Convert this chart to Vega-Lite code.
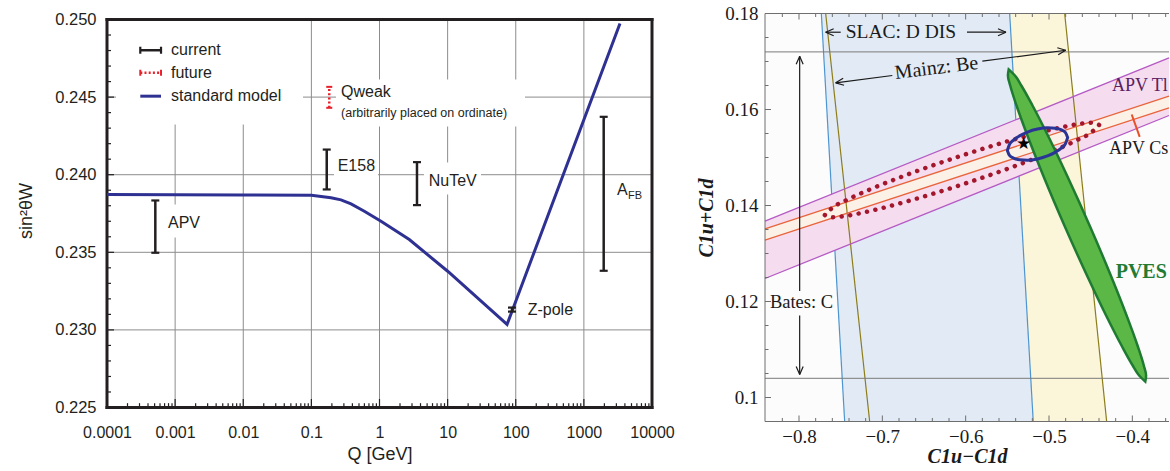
{
 "$schema": "https://vega.github.io/schema/vega-lite/v6.json",
 "padding": {"left": 17, "top": 4.5, "right": 0, "bottom": 0},
 "background": "white",
 "spacing": 21,
 "config": {"view": {"stroke": null}},
 "datasets": {
  "sm": [{"x":0.0001,"y":0.23872},{"x":0.001,"y":0.23871},{"x":0.01,"y":0.2387},{"x":0.1,"y":0.23868},{"x":0.194,"y":0.23851},{"x":0.272,"y":0.23838},{"x":0.382,"y":0.23812},{"x":0.599,"y":0.23765},{"x":1.052,"y":0.237},{"x":2.737,"y":0.23582},{"x":10.02,"y":0.23378},{"x":74.5,"y":0.23035},{"x":3388,"y":0.24974}],
  "bars": [{"x":0.000512,"y":0.23497,"y2":0.23834},{"x":0.168,"y":0.23905,"y2":0.24162},{"x":3.55,"y":0.23804,"y2":0.24081},{"x":1954,"y":0.23381,"y2":0.24373},{"x":88.1,"y":0.23118,"y2":0.23144}],
  "caps": [{"x":0.000512,"y":0.23497},{"x":0.000512,"y":0.23834},{"x":0.168,"y":0.23905},{"x":0.168,"y":0.24162},{"x":3.55,"y":0.23804},{"x":3.55,"y":0.24081},{"x":1954,"y":0.23381},{"x":1954,"y":0.24373},{"x":88.1,"y":0.23118},{"x":88.1,"y":0.23144}],
  "ltext": [
   {"x":0.00087,"y":0.24802,"t":"current","s":16},
   {"x":0.00087,"y":0.24657,"t":"future","s":16},
   {"x":0.00087,"y":0.24506,"t":"standard model","s":16},
   {"x":0.000785,"y":0.23692,"t":"APV","s":16},
   {"x":0.2434,"y":0.24055,"t":"E158","s":16},
   {"x":5.275,"y":0.23958,"t":"NuTeV","s":16},
   {"x":0.2723,"y":0.24532,"t":"Qweak","s":16},
   {"x":0.2723,"y":0.2440,"t":"(arbitrarily placed on ordinate)","s":12.5},
   {"x":3062,"y":0.2390,"t":"A","s":16},
   {"x":4446,"y":0.23861,"t":"FB","s":11},
   {"x":149.8,"y":0.23127,"t":"Z-pole","s":16}
  ],
  "vgrid": [{"x":0.001,"y":0.225,"y2":0.25},{"x":0.01,"y":0.225,"y2":0.25},{"x":0.1,"y":0.225,"y2":0.25},{"x":1,"y":0.225,"y2":0.25},{"x":10,"y":0.225,"y2":0.25},{"x":100,"y":0.225,"y2":0.25},{"x":1000,"y":0.225,"y2":0.25}],
  "hgrid": [{"y":0.23,"x":0.0001,"x2":10000},{"y":0.235,"x":0.0001,"x2":10000},{"y":0.24,"x":0.0001,"x2":10000},{"y":0.245,"x":0.0001,"x2":10000}],
  "lt": [
   {"x":0.0002,"x2":0.0002,"y":0.225,"y2":0.22528},{"x":0.0003,"x2":0.0003,"y":0.225,"y2":0.22528},{"x":0.0004,"x2":0.0004,"y":0.225,"y2":0.22528},{"x":0.0005,"x2":0.0005,"y":0.225,"y2":0.22528},{"x":0.0006,"x2":0.0006,"y":0.225,"y2":0.22528},{"x":0.0007,"x2":0.0007,"y":0.225,"y2":0.22528},{"x":0.0008,"x2":0.0008,"y":0.225,"y2":0.22528},{"x":0.0009,"x2":0.0009,"y":0.225,"y2":0.22528},
   {"x":0.002,"x2":0.002,"y":0.225,"y2":0.22528},{"x":0.003,"x2":0.003,"y":0.225,"y2":0.22528},{"x":0.004,"x2":0.004,"y":0.225,"y2":0.22528},{"x":0.005,"x2":0.005,"y":0.225,"y2":0.22528},{"x":0.006,"x2":0.006,"y":0.225,"y2":0.22528},{"x":0.007,"x2":0.007,"y":0.225,"y2":0.22528},{"x":0.008,"x2":0.008,"y":0.225,"y2":0.22528},{"x":0.009,"x2":0.009,"y":0.225,"y2":0.22528},
   {"x":0.02,"x2":0.02,"y":0.225,"y2":0.22528},{"x":0.03,"x2":0.03,"y":0.225,"y2":0.22528},{"x":0.04,"x2":0.04,"y":0.225,"y2":0.22528},{"x":0.05,"x2":0.05,"y":0.225,"y2":0.22528},{"x":0.06,"x2":0.06,"y":0.225,"y2":0.22528},{"x":0.07,"x2":0.07,"y":0.225,"y2":0.22528},{"x":0.08,"x2":0.08,"y":0.225,"y2":0.22528},{"x":0.09,"x2":0.09,"y":0.225,"y2":0.22528},
   {"x":0.2,"x2":0.2,"y":0.225,"y2":0.22528},{"x":0.3,"x2":0.3,"y":0.225,"y2":0.22528},{"x":0.4,"x2":0.4,"y":0.225,"y2":0.22528},{"x":0.5,"x2":0.5,"y":0.225,"y2":0.22528},{"x":0.6,"x2":0.6,"y":0.225,"y2":0.22528},{"x":0.7,"x2":0.7,"y":0.225,"y2":0.22528},{"x":0.8,"x2":0.8,"y":0.225,"y2":0.22528},{"x":0.9,"x2":0.9,"y":0.225,"y2":0.22528},
   {"x":2,"x2":2,"y":0.225,"y2":0.22528},{"x":3,"x2":3,"y":0.225,"y2":0.22528},{"x":4,"x2":4,"y":0.225,"y2":0.22528},{"x":5,"x2":5,"y":0.225,"y2":0.22528},{"x":6,"x2":6,"y":0.225,"y2":0.22528},{"x":7,"x2":7,"y":0.225,"y2":0.22528},{"x":8,"x2":8,"y":0.225,"y2":0.22528},{"x":9,"x2":9,"y":0.225,"y2":0.22528},
   {"x":20,"x2":20,"y":0.225,"y2":0.22528},{"x":30,"x2":30,"y":0.225,"y2":0.22528},{"x":40,"x2":40,"y":0.225,"y2":0.22528},{"x":50,"x2":50,"y":0.225,"y2":0.22528},{"x":60,"x2":60,"y":0.225,"y2":0.22528},{"x":70,"x2":70,"y":0.225,"y2":0.22528},{"x":80,"x2":80,"y":0.225,"y2":0.22528},{"x":90,"x2":90,"y":0.225,"y2":0.22528},
   {"x":200,"x2":200,"y":0.225,"y2":0.22528},{"x":300,"x2":300,"y":0.225,"y2":0.22528},{"x":400,"x2":400,"y":0.225,"y2":0.22528},{"x":500,"x2":500,"y":0.225,"y2":0.22528},{"x":600,"x2":600,"y":0.225,"y2":0.22528},{"x":700,"x2":700,"y":0.225,"y2":0.22528},{"x":800,"x2":800,"y":0.225,"y2":0.22528},{"x":900,"x2":900,"y":0.225,"y2":0.22528},
   {"x":2000,"x2":2000,"y":0.225,"y2":0.22528},{"x":3000,"x2":3000,"y":0.225,"y2":0.22528},{"x":4000,"x2":4000,"y":0.225,"y2":0.22528},{"x":5000,"x2":5000,"y":0.225,"y2":0.22528},{"x":6000,"x2":6000,"y":0.225,"y2":0.22528},{"x":7000,"x2":7000,"y":0.225,"y2":0.22528},{"x":8000,"x2":8000,"y":0.225,"y2":0.22528},{"x":9000,"x2":9000,"y":0.225,"y2":0.22528},
   {"x":0.001,"x2":0.001,"y":0.225,"y2":0.22555},{"x":0.01,"x2":0.01,"y":0.225,"y2":0.22555},{"x":0.1,"x2":0.1,"y":0.225,"y2":0.22555},{"x":1,"x2":1,"y":0.225,"y2":0.22555},{"x":10,"x2":10,"y":0.225,"y2":0.22555},{"x":100,"x2":100,"y":0.225,"y2":0.22555},{"x":1000,"x2":1000,"y":0.225,"y2":0.22555},
   {"y":0.226,"y2":0.226,"x":0.0001,"x2":0.0001145},{"y":0.227,"y2":0.227,"x":0.0001,"x2":0.0001145},{"y":0.228,"y2":0.228,"x":0.0001,"x2":0.0001145},{"y":0.229,"y2":0.229,"x":0.0001,"x2":0.0001145},
   {"y":0.231,"y2":0.231,"x":0.0001,"x2":0.0001145},{"y":0.232,"y2":0.232,"x":0.0001,"x2":0.0001145},{"y":0.233,"y2":0.233,"x":0.0001,"x2":0.0001145},{"y":0.234,"y2":0.234,"x":0.0001,"x2":0.0001145},
   {"y":0.236,"y2":0.236,"x":0.0001,"x2":0.0001145},{"y":0.237,"y2":0.237,"x":0.0001,"x2":0.0001145},{"y":0.238,"y2":0.238,"x":0.0001,"x2":0.0001145},{"y":0.239,"y2":0.239,"x":0.0001,"x2":0.0001145},
   {"y":0.241,"y2":0.241,"x":0.0001,"x2":0.0001145},{"y":0.242,"y2":0.242,"x":0.0001,"x2":0.0001145},{"y":0.243,"y2":0.243,"x":0.0001,"x2":0.0001145},{"y":0.244,"y2":0.244,"x":0.0001,"x2":0.0001145},
   {"y":0.246,"y2":0.246,"x":0.0001,"x2":0.0001145},{"y":0.247,"y2":0.247,"x":0.0001,"x2":0.0001145},{"y":0.248,"y2":0.248,"x":0.0001,"x2":0.0001145},{"y":0.249,"y2":0.249,"x":0.0001,"x2":0.0001145},
   {"y":0.23,"y2":0.23,"x":0.0001,"x2":0.0001267},{"y":0.235,"y2":0.235,"x":0.0001,"x2":0.0001267},{"y":0.24,"y2":0.24,"x":0.0001,"x2":0.0001267},{"y":0.245,"y2":0.245,"x":0.0001,"x2":0.0001267}
  ],
  "rt": [
   {"x":-0.82,"x2":-0.82,"y":0.095,"y2":0.09573},{"x":-0.78,"x2":-0.78,"y":0.095,"y2":0.09573},{"x":-0.76,"x2":-0.76,"y":0.095,"y2":0.09573},{"x":-0.74,"x2":-0.74,"y":0.095,"y2":0.09573},{"x":-0.72,"x2":-0.72,"y":0.095,"y2":0.09573},{"x":-0.68,"x2":-0.68,"y":0.095,"y2":0.09573},{"x":-0.66,"x2":-0.66,"y":0.095,"y2":0.09573},{"x":-0.64,"x2":-0.64,"y":0.095,"y2":0.09573},{"x":-0.62,"x2":-0.62,"y":0.095,"y2":0.09573},{"x":-0.58,"x2":-0.58,"y":0.095,"y2":0.09573},{"x":-0.56,"x2":-0.56,"y":0.095,"y2":0.09573},{"x":-0.54,"x2":-0.54,"y":0.095,"y2":0.09573},{"x":-0.52,"x2":-0.52,"y":0.095,"y2":0.09573},{"x":-0.48,"x2":-0.48,"y":0.095,"y2":0.09573},{"x":-0.46,"x2":-0.46,"y":0.095,"y2":0.09573},{"x":-0.44,"x2":-0.44,"y":0.095,"y2":0.09573},{"x":-0.42,"x2":-0.42,"y":0.095,"y2":0.09573},{"x":-0.38,"x2":-0.38,"y":0.095,"y2":0.09573},{"x":-0.36,"x2":-0.36,"y":0.095,"y2":0.09573},
   {"x":-0.82,"x2":-0.82,"y":0.18,"y2":0.17927},{"x":-0.78,"x2":-0.78,"y":0.18,"y2":0.17927},{"x":-0.76,"x2":-0.76,"y":0.18,"y2":0.17927},{"x":-0.74,"x2":-0.74,"y":0.18,"y2":0.17927},{"x":-0.72,"x2":-0.72,"y":0.18,"y2":0.17927},{"x":-0.68,"x2":-0.68,"y":0.18,"y2":0.17927},{"x":-0.66,"x2":-0.66,"y":0.18,"y2":0.17927},{"x":-0.64,"x2":-0.64,"y":0.18,"y2":0.17927},{"x":-0.62,"x2":-0.62,"y":0.18,"y2":0.17927},{"x":-0.58,"x2":-0.58,"y":0.18,"y2":0.17927},{"x":-0.56,"x2":-0.56,"y":0.18,"y2":0.17927},{"x":-0.54,"x2":-0.54,"y":0.18,"y2":0.17927},{"x":-0.52,"x2":-0.52,"y":0.18,"y2":0.17927},{"x":-0.48,"x2":-0.48,"y":0.18,"y2":0.17927},{"x":-0.46,"x2":-0.46,"y":0.18,"y2":0.17927},{"x":-0.44,"x2":-0.44,"y":0.18,"y2":0.17927},{"x":-0.42,"x2":-0.42,"y":0.18,"y2":0.17927},{"x":-0.38,"x2":-0.38,"y":0.18,"y2":0.17927},{"x":-0.36,"x2":-0.36,"y":0.18,"y2":0.17927},
   {"x":-0.8,"x2":-0.8,"y":0.095,"y2":0.09625},{"x":-0.7,"x2":-0.7,"y":0.095,"y2":0.09625},{"x":-0.6,"x2":-0.6,"y":0.095,"y2":0.09625},{"x":-0.5,"x2":-0.5,"y":0.095,"y2":0.09625},{"x":-0.4,"x2":-0.4,"y":0.095,"y2":0.09625},
   {"x":-0.8,"x2":-0.8,"y":0.18,"y2":0.17875},{"x":-0.7,"x2":-0.7,"y":0.18,"y2":0.17875},{"x":-0.6,"x2":-0.6,"y":0.18,"y2":0.17875},{"x":-0.5,"x2":-0.5,"y":0.18,"y2":0.17875},{"x":-0.4,"x2":-0.4,"y":0.18,"y2":0.17875},
   {"y":0.105,"y2":0.105,"x":-0.8408,"x2":-0.8366},{"y":0.11,"y2":0.11,"x":-0.8408,"x2":-0.8366},{"y":0.115,"y2":0.115,"x":-0.8408,"x2":-0.8366},{"y":0.125,"y2":0.125,"x":-0.8408,"x2":-0.8366},{"y":0.13,"y2":0.13,"x":-0.8408,"x2":-0.8366},{"y":0.135,"y2":0.135,"x":-0.8408,"x2":-0.8366},{"y":0.145,"y2":0.145,"x":-0.8408,"x2":-0.8366},{"y":0.15,"y2":0.15,"x":-0.8408,"x2":-0.8366},{"y":0.155,"y2":0.155,"x":-0.8408,"x2":-0.8366},{"y":0.165,"y2":0.165,"x":-0.8408,"x2":-0.8366},{"y":0.17,"y2":0.17,"x":-0.8408,"x2":-0.8366},{"y":0.175,"y2":0.175,"x":-0.8408,"x2":-0.8366},
   {"y":0.1,"y2":0.1,"x":-0.8408,"x2":-0.8336},{"y":0.12,"y2":0.12,"x":-0.8408,"x2":-0.8336},{"y":0.14,"y2":0.14,"x":-0.8408,"x2":-0.8336},{"y":0.16,"y2":0.16,"x":-0.8408,"x2":-0.8336}
  ],
  "dotell": [{"x":-0.76896,"y":0.138009,"y2":0.138009},{"x":-0.7604,"y":0.137534,"y2":0.139462},{"x":-0.7424,"y":0.137875,"y2":0.141174},{"x":-0.7124,"y":0.138951,"y2":0.143521},{"x":-0.6644,"y":0.141155,"y2":0.146794},{"x":-0.6044,"y":0.144369,"y2":0.150423},{"x":-0.5444,"y":0.148,"y2":0.153638},{"x":-0.4964,"y":0.151271,"y2":0.155842},{"x":-0.4664,"y":0.153619,"y2":0.156917},{"x":-0.4484,"y":0.155332,"y2":0.157259},{"x":-0.43984,"y":0.156784,"y2":0.156784}],
  "pves": [{"y":0.168354,"x":-0.54836,"x2":-0.54836},{"y":0.167083,"x":-0.54932,"x2":-0.54092},{"y":0.165,"x":-0.54656,"x2":-0.53324},{"y":0.160833,"x":-0.539,"x2":-0.5198},{"y":0.154583,"x":-0.52592,"x2":-0.50132},{"y":0.14625,"x":-0.50696,"x2":-0.4784},{"y":0.135833,"x":-0.48152,"x2":-0.45128},{"y":0.125417,"x":-0.4544,"x2":-0.42584},{"y":0.117083,"x":-0.43148,"x2":-0.40688},{"y":0.110833,"x":-0.413,"x2":-0.3938},{"y":0.106667,"x":-0.39956,"x2":-0.38624},{"y":0.104583,"x":-0.39188,"x2":-0.38348},{"y":0.103313,"x":-0.38444,"x2":-0.38444}],
  "bell": [{"x":-0.54996,"y":0.151482,"y2":0.151482},{"x":-0.5474,"y":0.150428,"y2":0.152723},{"x":-0.5426,"y":0.149873,"y2":0.153632},{"x":-0.5354,"y":0.149526,"y2":0.154511},{"x":-0.5258,"y":0.14944,"y2":0.155302},{"x":-0.5138,"y":0.149705,"y2":0.155921},{"x":-0.5018,"y":0.150323,"y2":0.156186},{"x":-0.4922,"y":0.151115,"y2":0.1561},{"x":-0.485,"y":0.151994,"y2":0.155752},{"x":-0.4802,"y":0.152903,"y2":0.155198},{"x":-0.47764,"y":0.154144,"y2":0.154144}],
  "arrows": [
   {"x":-0.7992,"y":0.1222,"x2":-0.7992,"y2":0.1711},
   {"x":-0.7992,"y":0.1171,"x2":-0.7992,"y2":0.1048},
   {"x":-0.74996,"y":0.1761,"x2":-0.768,"y2":0.1761},
   {"x":-0.5984,"y":0.1761,"x2":-0.5516,"y2":0.1761},
   {"x":-0.688,"y":0.16708,"x2":-0.756,"y2":0.16556},
   {"x":-0.58,"y":0.17006,"x2":-0.47996,"y2":0.17235},
   {"x":-0.7992,"y":0.1711,"x2":-0.795,"y2":0.16943},
   {"x":-0.7992,"y":0.1711,"x2":-0.8034,"y2":0.16943},
   {"x":-0.7992,"y":0.1048,"x2":-0.795,"y2":0.10647},
   {"x":-0.7992,"y":0.1048,"x2":-0.8034,"y2":0.10647},
   {"x":-0.768,"y":0.1761,"x2":-0.7584,"y2":0.176829},
   {"x":-0.768,"y":0.1761,"x2":-0.7584,"y2":0.175371},
   {"x":-0.5516,"y":0.1761,"x2":-0.5612,"y2":0.176829},
   {"x":-0.5516,"y":0.1761,"x2":-0.5612,"y2":0.175371},
   {"x":-0.756,"y":0.16556,"x2":-0.747017,"y2":0.166496},
   {"x":-0.756,"y":0.16556,"x2":-0.745942,"y2":0.16505},
   {"x":-0.47996,"y":0.17235,"x2":-0.488928,"y2":0.171409},
   {"x":-0.47996,"y":0.17235,"x2":-0.490027,"y2":0.172855}
  ]
 },
 "hconcat": [
  {
   "width": 545, "height": 394,
   "view": {"stroke": null, "fill": "white"},
   "encoding": {
    "x": {"field": "x", "type": "quantitative",
     "scale": {"type": "log", "domain": [0.0001, 10000], "nice": false},
     "axis": {"values": [0.0001,0.001,0.01,0.1,1,10,100,1000,10000], "labelExpr": "format(datum.value, '~g')", "ticks": false, "domain": false, "grid": false, "labelFlush": false, "labelOverlap": false, "labelPadding": 16.5, "labelFont": "Liberation Sans", "labelFontSize": 16, "labelColor": "#231f20", "title": "Q [GeV]", "titleFont": "Liberation Sans", "titleFontSize": 18, "titleFontWeight": "normal", "titleColor": "#231f20", "titlePadding": 5.5}},
    "y": {"field": "y", "type": "quantitative",
     "scale": {"domain": [0.225, 0.250387], "nice": false, "zero": false},
     "axis": {"values": [0.225,0.23,0.235,0.24,0.245,0.25], "format": ".3f", "ticks": false, "domain": false, "grid": false, "labelPadding": 11, "labelFont": "Liberation Sans", "labelFontSize": 16.5, "labelColor": "#231f20", "title": "sin²θW", "titleFont": "Liberation Sans", "titleFontSize": 18, "titleFontWeight": "normal", "titleColor": "#231f20", "titlePadding": 19}}
   },
   "layer": [
    {"data": {"name": "vgrid"}, "mark": {"type": "rule", "color": "#8c8c8c", "strokeWidth": 1}, "encoding": {"y2": {"field": "y2"}}},
    {"data": {"name": "hgrid"}, "mark": {"type": "rule", "color": "#8c8c8c", "strokeWidth": 1}, "encoding": {"x2": {"field": "x2"}}},
    {"data": {"values": [
      {"x":0.0001355,"x2":0.0754,"y":0.24323,"y2":0.2499},
      {"x":0.2299,"x2":136.7,"y":0.24311,"y2":0.24613},
      {"x":0.2148,"x2":0.951,"y":0.23969,"y2":0.24117},
      {"x":4.5,"x2":30.9,"y":0.23872,"y2":0.24079},
      {"x":0.00071,"x2":0.0024,"y":0.23595,"y2":0.23808}]},
     "mark": {"type": "rect", "fill": "white"}, "encoding": {"x2": {"field": "x2"}, "y2": {"field": "y2"}}},
    {"data": {"name": "lt"}, "mark": {"type": "rule", "color": "#231f20", "strokeWidth": 1.2}, "encoding": {"x2": {"field": "x2"}, "y2": {"field": "y2"}}},
    {"data": {"values": [
      {"x":0.0001,"x2":10000,"y":0.225,"y2":0.225},
      {"x":0.0001,"x2":10000,"y":0.25,"y2":0.25},
      {"x":0.0001,"x2":0.0001,"y":0.225,"y2":0.25},
      {"x":10000,"x2":10000,"y":0.225,"y2":0.25}]},
     "mark": {"type": "rule", "color": "#231f20", "strokeWidth": 3, "strokeCap": "square"}, "encoding": {"x2": {"field": "x2"}, "y2": {"field": "y2"}}},
    {"data": {"name": "sm"}, "mark": {"type": "line", "color": "#2e3192", "strokeWidth": 3}, "encoding": {}},
    {"data": {"name": "bars"}, "mark": {"type": "rule", "color": "#231f20", "strokeWidth": 2.5}, "encoding": {"y2": {"field": "y2"}}},
    {"data": {"name": "caps"}, "mark": {"type": "tick", "orient": "horizontal", "color": "#231f20", "size": 8, "thickness": 2.2, "opacity": 1}, "encoding": {}},
    {"data": {"values": [{"x":0.183,"y":0.24431,"y2":0.24566}]}, "mark": {"type": "rule", "color": "#e8202a", "strokeWidth": 2.5, "strokeDash": [2, 2.2]}, "encoding": {"y2": {"field": "y2"}}},
    {"data": {"values": [{"x":0.183,"y":0.24431},{"x":0.183,"y":0.24566}]}, "mark": {"type": "tick", "orient": "horizontal", "color": "#e8202a", "size": 6, "thickness": 2, "opacity": 1}, "encoding": {}},
    {"data": {"values": [{"x":0.000308,"x2":0.000621,"y":0.24802}]}, "mark": {"type": "rule", "color": "#231f20", "strokeWidth": 2.5}, "encoding": {"x2": {"field": "x2"}}},
    {"data": {"values": [{"x":0.000308,"y":0.24802},{"x":0.000621,"y":0.24802}]}, "mark": {"type": "tick", "orient": "vertical", "color": "#231f20", "size": 7, "thickness": 2.2, "opacity": 1}, "encoding": {}},
    {"data": {"values": [{"x":0.000308,"x2":0.000621,"y":0.24657}]}, "mark": {"type": "rule", "color": "#e8202a", "strokeWidth": 2.5, "strokeDash": [2, 2.2]}, "encoding": {"x2": {"field": "x2"}}},
    {"data": {"values": [{"x":0.000308,"y":0.24657},{"x":0.000621,"y":0.24657}]}, "mark": {"type": "tick", "orient": "vertical", "color": "#e8202a", "size": 6, "thickness": 2, "opacity": 1}, "encoding": {}},
    {"data": {"values": [{"x":0.000308,"x2":0.000621,"y":0.24506}]}, "mark": {"type": "rule", "color": "#2e3192", "strokeWidth": 3}, "encoding": {"x2": {"field": "x2"}}},
    {"data": {"name": "ltext"}, "mark": {"type": "text", "align": "left", "baseline": "middle", "font": "Liberation Sans", "color": "#231f20"},
     "encoding": {"text": {"field": "t"}, "size": {"field": "s", "type": "quantitative", "scale": null}}}
   ]
  },
  {
   "width": 404, "height": 408,
   "view": {"stroke": null, "fill": "#fcfcfc"},
   "encoding": {
    "x": {"field": "x", "type": "quantitative",
     "scale": {"domain": [-0.8408, -0.356], "nice": false, "zero": false},
     "axis": {"values": [-0.8,-0.7,-0.6,-0.5,-0.4], "labelExpr": "format(datum.value, '~g')", "ticks": false, "domain": false, "grid": false, "labelFlush": false, "labelOverlap": false, "labelPadding": 6, "labelFont": "Liberation Serif", "labelFontSize": 19, "labelColor": "#1a1a1a", "title": "C1u−C1d", "titleFont": "Liberation Serif", "titleFontSize": 20, "titleFontStyle": "italic", "titleFontWeight": "bold", "titleColor": "#1a1a1a", "titlePadding": 0}},
    "y": {"field": "y", "type": "quantitative",
     "scale": {"domain": [0.095, 0.18], "nice": false, "zero": false},
     "axis": {"values": [0.1,0.12,0.14,0.16,0.18], "labelExpr": "format(datum.value, '~g')", "ticks": false, "domain": false, "grid": false, "labelFlush": false, "labelOverlap": false, "labelPadding": 7, "labelFont": "Liberation Serif", "labelFontSize": 19, "labelColor": "#1a1a1a", "title": "C1u+C1d", "titleFont": "Liberation Serif", "titleFontSize": 20, "titleFontStyle": "italic", "titleFontWeight": "bold", "titleColor": "#1a1a1a", "titlePadding": 8}}
   },
   "layer": [
    {"data": {"values": [{"y":0.18,"x":-0.768,"x2":-0.4812},{"y":0.095,"x":-0.7152,"x2":-0.4308}]}, "mark": {"type": "area", "orient": "horizontal", "fill": "#fbf5d9"}, "encoding": {"x2": {"field": "x2"}}},
    {"data": {"values": [{"y":0.18,"x":-0.7732,"x2":-0.5472},{"y":0.095,"x":-0.7452,"x2":-0.5189}]}, "mark": {"type": "area", "orient": "horizontal", "fill": "#e2ebf5"}, "encoding": {"x2": {"field": "x2"}}},
    {"data": {"values": [{"x":-0.7732,"y":0.18,"x2":-0.7452,"y2":0.095},{"x":-0.5472,"y":0.18,"x2":-0.5189,"y2":0.095}]}, "mark": {"type": "rule", "color": "#4e95cf", "strokeWidth": 1.2}, "encoding": {"x2": {"field": "x2"}, "y2": {"field": "y2"}}},
    {"data": {"values": [{"x":-0.8408,"y":0.12479,"y2":0.13673},{"x":-0.356,"y":0.15875,"y2":0.17077}]}, "mark": {"type": "area", "fill": "#f5ddef"}, "encoding": {"y2": {"field": "y2"}}},
    {"data": {"values": [{"x":-0.8408,"y":0.13281,"y2":0.13515},{"x":-0.356,"y":0.16035,"y2":0.16277}]}, "mark": {"type": "area", "fill": "#fbf1e6"}, "encoding": {"y2": {"field": "y2"}}},
    {"data": {"values": [{"x":-0.768,"y":0.18,"x2":-0.7152,"y2":0.095},{"x":-0.4812,"y":0.18,"x2":-0.4308,"y2":0.095}]}, "mark": {"type": "rule", "color": "#8c7d1a", "strokeWidth": 1.2}, "encoding": {"x2": {"field": "x2"}, "y2": {"field": "y2"}}},
    {"data": {"values": [{"x":-0.8408,"y":0.13673,"x2":-0.356,"y2":0.17077},{"x":-0.8408,"y":0.12479,"x2":-0.356,"y2":0.15875}]}, "mark": {"type": "rule", "color": "#b55ac4", "strokeWidth": 1.3}, "encoding": {"x2": {"field": "x2"}, "y2": {"field": "y2"}}},
    {"data": {"values": [{"x":-0.8408,"y":0.13515,"x2":-0.356,"y2":0.16277},{"x":-0.8408,"y":0.13281,"x2":-0.356,"y2":0.16035}]}, "mark": {"type": "rule", "color": "#e8643c", "strokeWidth": 1.3}, "encoding": {"x2": {"field": "x2"}, "y2": {"field": "y2"}}},
    {"data": {"values": [{"y":0.172,"x":-0.8408,"x2":-0.356},{"y":0.104,"x":-0.8408,"x2":-0.356}]}, "mark": {"type": "rule", "color": "#7a7a7a", "strokeWidth": 1}, "encoding": {"x2": {"field": "x2"}}},
    {"data": {"name": "dotell"}, "mark": {"type": "area", "interpolate": "monotone", "fillOpacity": 0, "stroke": "#a3162b", "strokeWidth": 4.5, "strokeDash": [0.1, 8.5], "strokeCap": "round"}, "encoding": {"y2": {"field": "y2"}}},
    {"data": {"name": "pves"}, "mark": {"type": "area", "orient": "horizontal", "interpolate": "monotone", "fill": "#5bb847", "stroke": "#1f7a32", "strokeWidth": 2.5}, "encoding": {"x2": {"field": "x2"}}},
    {"data": {"name": "bell"}, "mark": {"type": "area", "interpolate": "monotone", "fillOpacity": 0, "stroke": "#2b3596", "strokeWidth": 3}, "encoding": {"y2": {"field": "y2"}}},
    {"data": {"values": [{"x":-0.5306,"y":0.15281,"t":"★"}]}, "mark": {"type": "text", "align": "center", "baseline": "middle", "font": "DejaVu Sans", "fontSize": 17, "color": "black"}, "encoding": {"text": {"field": "t"}}},
    {"data": {"values": [{"x":-0.40076,"y":0.15896,"x2":-0.39116,"y2":0.15431}]}, "mark": {"type": "rule", "color": "#e8502a", "strokeWidth": 2}, "encoding": {"x2": {"field": "x2"}, "y2": {"field": "y2"}}},
    {"data": {"name": "arrows"}, "mark": {"type": "rule", "color": "#1a1a1a", "strokeWidth": 1.2}, "encoding": {"x2": {"field": "x2"}, "y2": {"field": "y2"}}},
    {"data": {"values": [{"x":-0.797,"y":0.12,"t":"Bates: C"}]},
     "mark": {"type": "text", "align": "center", "baseline": "middle", "font": "Liberation Serif", "fontSize": 18.5, "color": "#1a1a1a"},
     "encoding": {"text": {"field": "t"}}},
    {"data": {"values": [{"x":-0.635,"y":0.16865,"t":"Mainz: Be"}]},
     "mark": {"type": "text", "align": "center", "baseline": "middle", "font": "Liberation Serif", "fontSize": 20, "angle": 353, "color": "#1a1a1a"},
     "encoding": {"text": {"field": "t"}}},
    {"data": {"values": [{"x":-0.744,"y":0.1761,"t":"SLAC: D DIS"}]},
     "mark": {"type": "text", "align": "left", "baseline": "middle", "font": "Liberation Serif", "fontSize": 19.5, "color": "#1a1a1a"},
     "encoding": {"text": {"field": "t"}}},
    {"data": {"values": [
      {"x":-0.4244,"y":0.165,"t":"APV Tl","c":"#5a2160"},
      {"x":-0.428,"y":0.15167,"t":"APV Cs","c":"#1a1a1a"}]},
     "mark": {"type": "text", "align": "left", "baseline": "middle", "font": "Liberation Serif", "fontSize": 18},
     "encoding": {"text": {"field": "t"}, "color": {"field": "c", "type": "nominal", "scale": null}}},
    {"data": {"values": [{"x":-0.42,"y":0.12615,"t":"PVES"}]}, "mark": {"type": "text", "align": "left", "baseline": "middle", "font": "Liberation Serif", "fontSize": 20, "fontWeight": "bold", "color": "#237a33"}, "encoding": {"text": {"field": "t"}}},
    {"data": {"values": [
      {"x":-0.8408,"x2":-0.8408,"y":0.095,"y2":0.18},
      {"x":-0.8408,"x2":-0.356,"y":0.095,"y2":0.095},
      {"x":-0.8408,"x2":-0.356,"y":0.18,"y2":0.18}]},
     "mark": {"type": "rule", "color": "#6e6e6e", "strokeWidth": 1}, "encoding": {"x2": {"field": "x2"}, "y2": {"field": "y2"}}},
    {"data": {"name": "rt"}, "mark": {"type": "rule", "color": "#6e6e6e", "strokeWidth": 1}, "encoding": {"x2": {"field": "x2"}, "y2": {"field": "y2"}}}
   ]
  }
 ]
}
